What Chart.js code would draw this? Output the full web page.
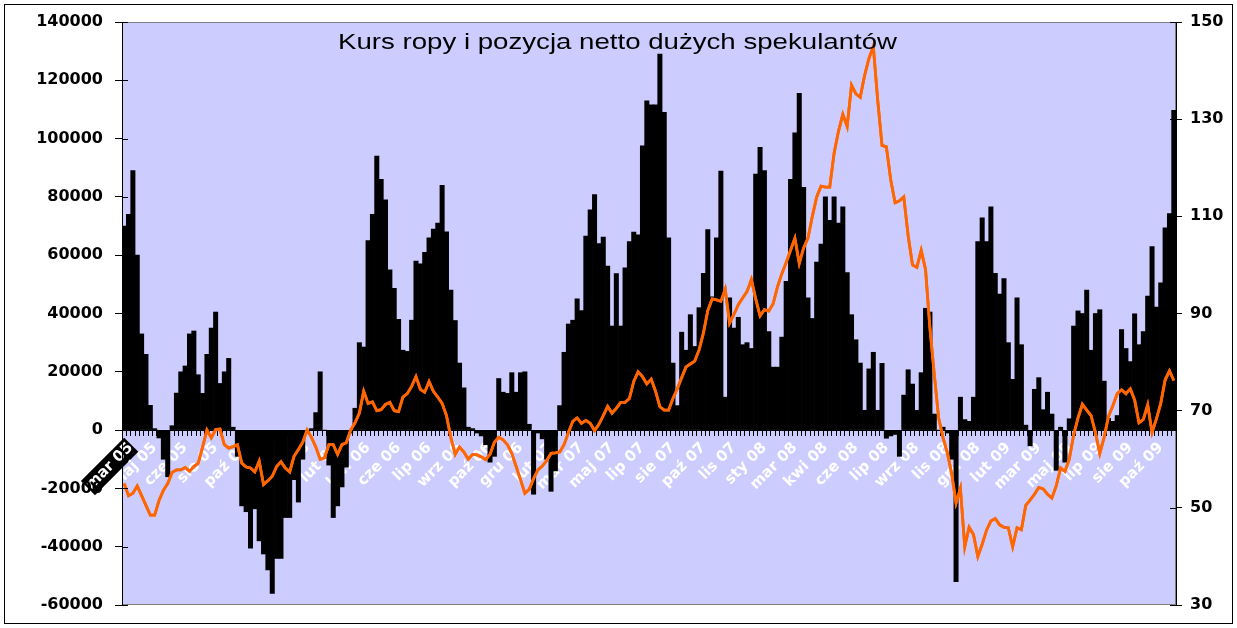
<!DOCTYPE html>
<html>
<head>
<meta charset="utf-8">
<script src="https://cdn.jsdelivr.net/npm/chart.js@4"></script>
<style>
  html, body { margin: 0; padding: 0; background: #fff; }
  #wrap { width: 1237px; height: 628px; }
</style>
</head>
<body>
<div id="wrap"><canvas id="oilChart" width="1237" height="628"></canvas></div>
<script>
// month labels, one every 7 weeks
var monthLabels = ['mar 05','maj 05','cze 05','sie 05','paź 05','lis 05','sty 06','lut 06','kwi 06','cze 06',
  'lip 06','wrz 06','paź 06','gru 06','lut 07','mar 07','maj 07','lip 07','sie 07','paź 07',
  'lis 07','sty 08','mar 08','kwi 08','cze 08','lip 08','wrz 08','lis 08','gru 08','lut 09',
  'mar 09','maj 09','lip 09','sie 09','paź 09'];
var labelStep = 7;
var weekCount = 242;

// net position of large speculators (contracts), weekly
var netPositions = [
  70000, 74000, 89000, 60000, 33000, 26000, 8500, 500, -2700, -10000,
  -16000, 1500, 12700, 20000, 22000, 33000, 34000, 19000, 12600, 26000,
  35000, 40500, 16000, 20000, 24600, 1000, -9000, -26000, -28000, -40500,
  -27000, -38000, -42500, -48000, -56000, -44000, -44000, -30000, -30000, -17000,
  -24700, -10000, -1000, 500, 6000, 20000, 0, -12000, -30000, -26000,
  -19500, -12700, -1000, 7500, 30000, 28500, 65000, 74000, 94000, 86000,
  79000, 55000, 48600, 38000, 27400, 27000, 37700, 58000, 57000, 61000,
  66000, 69000, 71000, 84000, 68000, 48000, 37600, 23000, 14500, 1000,
  500, -1000, -2000, -5000, -11000, -9000, 17700, 13000, 12600, 19700,
  13000, 19700, 20000, 2000, -22000, -1000, -3000, -10000, -21000, -14000,
  8400, 26700, 36400, 37700, 45000, 41000, 66600, 75600, 80800, 64000,
  66200, 56300, 35700, 53700, 35700, 55700, 64700, 67900, 67000, 97500,
  113000, 111600, 111600, 129000, 109000, 66000, 23000, 8400, 33600, 27400,
  39600, 28700, 42000, 53800, 68800, 45700, 66000, 88900, 11300, 45400,
  35000, 38700, 29300, 30000, 28000, 87800, 97000, 89000, 33800, 21600,
  21600, 31900, 51000, 86000, 102000, 115500, 83300, 45400, 38300, 57600,
  63800, 80000, 72000, 80000, 71000, 76600, 54000, 39600, 31000, 23000,
  6800, 21000, 26700, 6800, 22900, -2800, -2000, -1500, -9000, 12000,
  20700, 15800, 6800, 19700, 41800, 40500, 5500, 0, 1000, -1000,
  -10000, -52000, 11300, 3600, 3000, 11300, 64700, 72800, 64700, 76600,
  53800, 46700, 52000, 30000, 17400, 45400, 29300, 1700, -5400, 14000,
  18000, 7000, 13000, 5500, -13800, 1000, -11000, 3900, 35700, 40900,
  40000, 48000, 27400, 40000, 41300, 16800, 4000, 3000, 5000, 34500,
  28000, 23500, 39900, 29300, 33800, 46000, 63000, 42200, 50500, 69400,
  74300, 109700
];

// crude oil price (USD/bbl), weekly
var oilPrice = [
  55, 52.5, 53, 54.5, 52.5, 50.5, 48.5, 48.5, 51.5, 53.6,
  55, 57.3, 57.8, 57.8, 58.3, 57.5, 58.5, 59.2, 62.5, 66,
  64.4, 66.1, 66.2, 63, 62.3, 62.6, 63, 59.2, 58.4, 58.2,
  57.4, 59.6, 54.8, 55.6, 56.5, 58.5, 59.5, 58.2, 57.4, 60.6,
  62, 63.5, 66, 64.5, 62.5, 60, 60.3, 63, 63, 61,
  63, 63.4, 66, 67.5, 69.5, 74, 71.5, 71.8, 70, 70.2,
  71.3, 71.7, 70, 69.8, 72.8, 73.5, 75, 77, 74.4, 73.8,
  76, 74, 72.8, 71.5, 69, 64.5, 61, 62.5, 61.5, 60,
  61, 60.9, 60.5, 59.9, 61, 63.5, 64.5, 64, 63, 61.2,
  58.5, 55.8, 53, 53.8, 56, 57.8, 58.6, 59.7, 61.2, 61.3,
  61.5, 63, 65.5, 67.8, 68.5, 67.4, 68, 67.4, 65.9, 67.2,
  69, 70.9, 69.5, 70.5, 71.7, 71.7, 72.5, 76, 78, 77,
  75.5, 76.5, 74, 70.8, 70.1, 70.1, 72.5, 74.5, 76.8, 79,
  79.6, 80.2, 82.5, 86, 90.6, 93, 92.8, 92.5, 95, 88,
  89.8, 91.8, 93.2, 94.5, 97, 93, 89.5, 90.8, 90.5, 92,
  95.5, 98.2, 100.5, 103, 105.5, 100.3, 103.5, 105.5, 110, 114,
  116.2, 116, 116, 123, 127.5, 131, 128.5, 137, 135.2, 134.5,
  139, 142.5, 145, 134, 124.6, 124.3, 117.5, 112.8, 113.2, 114,
  106, 100, 99.5, 103, 99, 87, 77.5, 68.5, 64.5, 61.3,
  57, 51, 54, 42, 46, 44.5, 40, 42.5, 45.4, 47.3,
  47.8, 46.5, 46, 45.9, 42, 45.9, 45.5, 50.5, 51.6, 52.8,
  54.2, 53.9, 52.8, 52, 54.5, 58.2, 57.5, 60, 65, 68.5,
  71.3, 70.1, 69, 65.5, 61.2, 64.5, 68.8, 71, 73.5, 74.3,
  73.5, 74.5, 72.2, 67.5, 68.2, 71.2, 65.5, 68.3, 71.5, 76.3,
  78.2, 76.2
];

var leftTicks = { min: -60000, max: 140000, step: 20000 };
var rightTicks = { min: 30, max: 150, step: 20 };
var chartTitle = 'Kurs ropy i pozycja netto dużych spekulantów';

var weeks = [];
for (var i = 0; i < weekCount; i++) {
    weeks.push(i % labelStep === 0 ? monthLabels[i / labelStep] : '');
}

var axisFont = { family: '"DejaVu Sans", sans-serif', size: 16, weight: 'bold' };

// background, frame, inner tick halves and the title inside the plot
var excelLook = {
    id: 'excelLook',
    beforeDraw: function (chart) {
        var ctx = chart.ctx, a = chart.chartArea;
        ctx.save();
        ctx.fillStyle = '#ffffff';
        ctx.fillRect(0, 0, chart.width, chart.height);
        ctx.fillStyle = '#CCCCFF';
        ctx.fillRect(a.left, a.top, a.right - a.left, a.bottom - a.top);
        ctx.strokeStyle = '#808080';
        ctx.lineWidth = 1;
        ctx.strokeRect(a.left + 0.5, a.top + 0.5, a.right - a.left - 1, a.bottom - a.top - 1);
        ctx.restore();
    },
    afterDraw: function (chart) {
        var ctx = chart.ctx, a = chart.chartArea;

        // oil line again, on top of the white month labels
        ctx.save();
        ctx.beginPath();
        ctx.rect(a.left, a.top, a.right - a.left, a.bottom - a.top);
        ctx.clip();
        chart.getDatasetMeta(0).controller.draw();
        ctx.restore();

        ctx.save();
        ctx.strokeStyle = '#000';
        ctx.lineWidth = 1;
        ctx.beginPath();
        chart.scales.y.ticks.forEach(function (t) {
            var py = Math.round(chart.scales.y.getPixelForValue(t.value)) + 0.5;
            ctx.moveTo(a.left, py); ctx.lineTo(a.left + 6, py);
        });
        chart.scales.y1.ticks.forEach(function (t) {
            var py = Math.round(chart.scales.y1.getPixelForValue(t.value)) + 0.5;
            ctx.moveTo(a.right - 6, py); ctx.lineTo(a.right, py);
        });
        ctx.stroke();
        ctx.strokeRect(4.5, 4.5, chart.width - 9, chart.height - 9);

        ctx.font = '22px "Liberation Sans", Arial, sans-serif';
        ctx.fillStyle = '#000';
        ctx.textBaseline = 'alphabetic';
        var w = ctx.measureText(chartTitle).width;
        ctx.translate(338, 49);
        ctx.scale(559 / w, 1);
        ctx.fillText(chartTitle, 0, 0);
        ctx.restore();
    }
};

new Chart(document.getElementById('oilChart'), {
    type: 'bar',
    data: {
        labels: weeks,
        datasets: [{
            type: 'line',
            label: 'Kurs ropy',
            data: oilPrice,
            yAxisID: 'y1',
            borderColor: '#FF6600',
            borderWidth: 2.8,
            pointRadius: 0,
            tension: 0,
            order: 0
        }, {
            label: 'Pozycja netto',
            data: netPositions,
            yAxisID: 'y',
            backgroundColor: '#000000',
            borderWidth: 0,
            barPercentage: 1,
            categoryPercentage: 1,
            order: 1
        }]
    },
    options: {
        responsive: false,
        animation: false,
        devicePixelRatio: 1,
        layout: { padding: { top: 22, bottom: 23, left: 0, right: 0 } },
        plugins: {
            legend: { display: false },
            title: { display: false },
            tooltip: { enabled: false }
        },
        scales: {
            x: {
                position: { y: 0 },
                z: 1,
                grid: { drawOnChartArea: false, drawTicks: true, tickLength: 5, color: '#000' },
                border: { display: true, color: '#000', width: 1 },
                ticks: {
                    autoSkip: false,
                    maxRotation: 45,
                    minRotation: 45,
                    padding: 4,
                    color: '#ffffff',
                    font: { family: '"DejaVu Sans", sans-serif', size: 15, weight: 'bold' },
                    showLabelBackdrop: function (c) { return c.index === 0; },
                    backdropColor: '#000000',
                    backdropPadding: 1
                }
            },
            y: {
                position: 'left',
                min: leftTicks.min,
                max: leftTicks.max,
                afterFit: function (scale) { scale.width = 122; },
                grid: { drawOnChartArea: false, drawTicks: true, tickLength: 7, color: '#000' },
                border: { display: true, color: '#000', width: 1 },
                ticks: {
                    stepSize: leftTicks.step,
                    padding: 12,
                    color: '#000',
                    font: axisFont,
                    callback: function (v) { return String(v); }
                }
            },
            y1: {
                position: 'right',
                min: rightTicks.min,
                max: rightTicks.max,
                afterFit: function (scale) { scale.width = 61; },
                grid: { drawOnChartArea: false, drawTicks: true, tickLength: 6, color: '#000' },
                border: { display: true, color: '#000', width: 1 },
                ticks: {
                    stepSize: rightTicks.step,
                    padding: 8,
                    color: '#000',
                    font: axisFont,
                    callback: function (v) { return String(v); }
                }
            }
        }
    },
    plugins: [excelLook]
});
</script>
</body>
</html>
